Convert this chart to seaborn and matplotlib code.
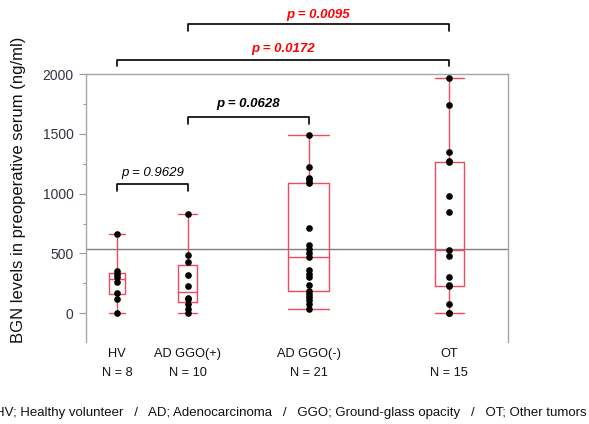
import numpy as np
import pandas as pd
import matplotlib
matplotlib.use("Agg")
import matplotlib.pyplot as plt
from matplotlib.ticker import AutoMinorLocator
import seaborn as sns

# ---------------- data ----------------
groups = ["HV", "AD GGO(+)", "AD GGO(-)", "OT"]
n_labels = ["N = 8", "N = 10", "N = 21", "N = 15"]
hv = [660, 355, 330, 300, 265, 170, 120, 0]
ggo_pos = [828, 487, 430, 324, 226, 128, 120, 81, 39, 0]
ggo_neg = [1487, 1219, 1130, 1120, 1100, 1085, 710, 570, 540, 500, 472,
           360, 330, 300, 235, 185, 165, 140, 110, 80, 40]
ot = [1968, 1744, 1352, 1275, 1262, 984, 844, 530, 478, 304, 238, 226, 75, 5, 0]
ref_line = 535
# comparisons: (group a, group b, label, colour, bold)
comparisons = [
    (0, 1, "p = 0.9629", "black", False),
    (1, 2, "p = 0.0628", "black", True),
    (0, 3, "p = 0.0172", "#FF0000", True),
    (1, 3, "p = 0.0095", "#FF0000", True),
]
legend_text = ("HV; Healthy volunteer   /   AD; Adenocarcinoma   /   "
               "GGO; Ground-glass opacity   /   OT; Other tumors")
ylabel = "BGN levels in preoperative serum (ng/ml)"

values = [hv, ggo_pos, ggo_neg, ot]
counts = np.array([len(v) for v in values])
# JMP-style: each group occupies a share of the axis proportional to its N
positions = np.cumsum(counts) - counts / 2.0

df = pd.DataFrame({
    "group": np.repeat(groups, counts),
    "pos": np.repeat(positions, counts),
    "value": np.concatenate(values),
})

# ---------------- style ----------------
sns.set_theme(style="white")
plt.rcParams["font.family"] = ["Liberation Sans", "DejaVu Sans"]

W, H = 589, 424
fig = plt.figure(figsize=(W / 100, H / 100), dpi=100)
ax = fig.add_axes([86 / W, 1 - 342 / H, (508 - 86) / W, (342 - 74) / H])

red = "#EE4A5E"

ax.axhline(ref_line, color="#808080", lw=1.0, zorder=1)

for g, n, p in zip(groups, counts, positions):
    sub = df[df["group"] == g]
    w = 0.25 * n
    before = len(ax.lines)
    sns.boxplot(data=sub, x="pos", y="value", native_scale=True, width=w,
                fill=False, color=red, linewidth=1.0, showfliers=False,
                whis=10, ax=ax, zorder=2)
    for ln in ax.lines[before:]:
        xd, yd = np.asarray(ln.get_xdata()), np.asarray(ln.get_ydata())
        if len(xd) == 2 and yd[0] == yd[1]:
            ln.set_xdata([p - w / 2, p + w / 2])

sns.stripplot(data=df, x="pos", y="value", native_scale=True, jitter=False,
              color="black", size=4.8, linewidth=0, ax=ax, zorder=3)

ax.set_xlim(0, counts.sum())
ax.set_ylim(-240, 2000)
ax.set_xlabel("")
ax.set_ylabel("")
ax.set_xticks([])
ax.set_yticks([0, 500, 1000, 1500, 2000])
ax.yaxis.set_minor_locator(AutoMinorLocator(2))
ax.tick_params(axis="y", which="major", direction="out", length=5, width=0.8,
               color="#999999", labelsize=10, labelcolor="#333344", pad=4,
               left=True)
ax.tick_params(axis="y", which="minor", direction="out", length=2.5, width=0.8,
               color="#999999", left=True)
for s in ["left", "top", "right"]:
    ax.spines[s].set_visible(True)
    ax.spines[s].set_color("#A6A6A6")
    ax.spines[s].set_linewidth(1.0)
ax.spines["bottom"].set_visible(False)

# category labels
xt = ax.get_xaxis_transform()
for p, g, nl in zip(positions, groups, n_labels):
    ax.text(p, -0.022, g + "\n" + nl, transform=xt, ha="center", va="top",
            fontsize=9.2, linespacing=1.8, color="#111111")

# significance brackets (y in data units)
bracket_y = [1083, 1643, 2121, 2414]
text_y = [1175, 1752, 2205, 2490]
drop = 58
for (a, b, lab, col, bold), by, ty in zip(comparisons, bracket_y, text_y):
    xa, xb = positions[a], positions[b]
    ax.plot([xa, xa, xb, xb], [by - drop, by, by, by - drop], color="black",
            lw=1.2, clip_on=False, zorder=4)
    ax.text((xa + xb) / 2, ty, lab, ha="center", va="center", fontsize=9.5,
            style="italic", fontweight="bold" if bold else "normal",
            color=col, clip_on=False)

fig.text(19 / W, 1 - 190 / H, ylabel, rotation=90, ha="center", va="center",
         fontsize=12, color="#111111")
fig.text(587 / W, 1 - 413 / H, legend_text, ha="right", va="center",
         fontsize=9.5, color="#111111")

fig.savefig("out.png", dpi=100)
